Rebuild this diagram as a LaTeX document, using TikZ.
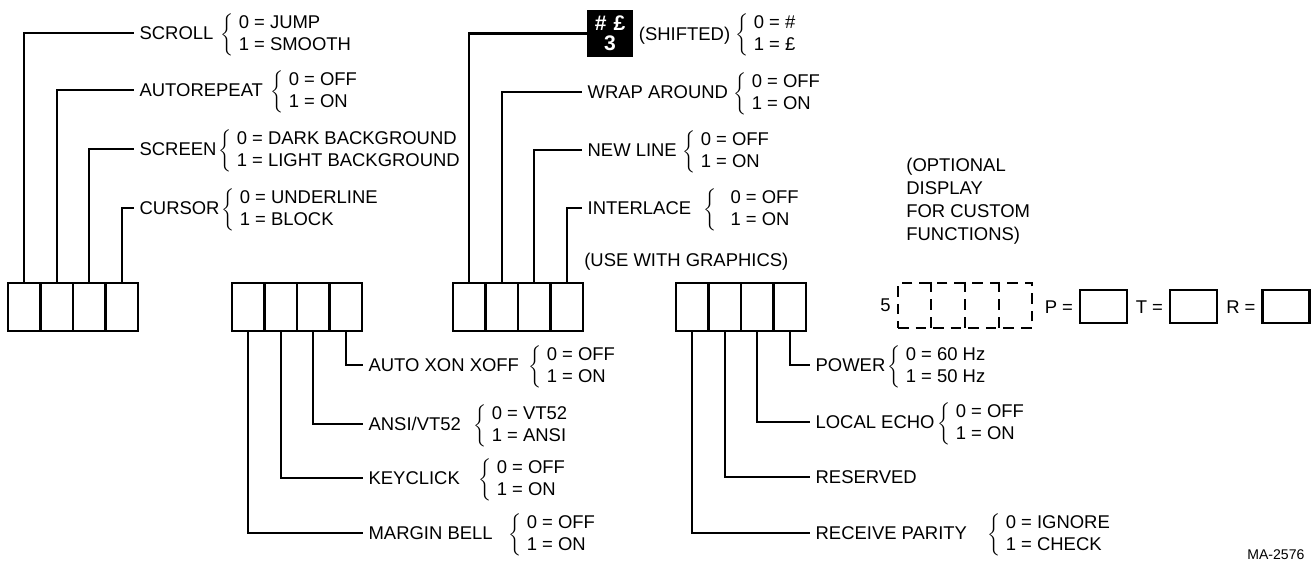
\documentclass[tikz,border=0pt]{standalone}
\usepackage{fontspec}
\setmainfont{Liberation Sans}
\usepackage{tikz}
\usetikzlibrary{positioning,calc}
\tikzset{cell/.style={rectangle,draw=black,line width=1.6pt,minimum width=6.5mm,
 minimum height=9.6mm,inner sep=0pt},
 dimcell/.style={rectangle,draw=black,line width=1.3pt,dash pattern=on 6pt off 4pt,
 minimum width=26.8mm,minimum height=9mm,inner sep=0pt},
 register/.style={rectangle,draw=black,line width=1.6pt,minimum width=9.4mm,
 minimum height=6.6mm,inner sep=0pt},
 setname/.style={anchor=west,inner xsep=3pt,inner ysep=0pt,text height=7.5pt,text depth=0pt},
 choices/.style={anchor=west,inner sep=0pt,yshift=-1.3pt},
 keycap/.style={rectangle,fill=black,text=white,minimum width=9.2mm,minimum height=9.4mm,
 inner sep=0pt,align=center,font=\bfseries\fontsize{12}{11.5}\selectfont},
 note/.style={inner sep=0pt,align=left,font=\fontsize{10.5}{13}\selectfont},
 leader/.style={draw=black,line width=1.3pt}}
\newcommand{\bank}[2]{%
 \foreach \k in {1,...,4}
  \node[cell] (#1\k) at ({#2+32.5*\k-16.25},307) {};}
\newcommand{\setting}[8]{%
 \node[setname] (#1) at (#3,#4) {#5};
 \node[choices] (#1opt) at (#6,#4)
  {$\left\{\begin{tabular}{@{\hspace{3pt}}l@{}}#7\\#8\end{tabular}\right.$};
 \draw[leader] (#2) |- (#1);}

\begin{document}
\begin{tikzpicture}[x=.02cm,y=-.02cm,font=\fontsize{10.5}{12}\selectfont]
 \useasboundingbox (0,0) rectangle (1313,561);
 \bank{a}{8}
 \bank{b}{232}
 \bank{c}{453}
 \bank{d}{676}
 % first bank
 \setting{scroll}{a1.north}{134}{33}{SCROLL}{220}{0 = JUMP}{1 = SMOOTH}
 \setting{autorpt}{a2.north}{134}{90}{AUTOREPEAT}{270}{0 = OFF}{1 = ON}
 \setting{screen}{a3.north}{134}{149}{SCREEN}{218}{0 = DARK BACKGROUND}{1 = LIGHT BACKGROUND}
 \setting{cursor}{a4.north}{134}{208}{CURSOR}{221}{0 = UNDERLINE}{1 = BLOCK}
 % second bank
 \setting{xon}{b4.south}{363}{365}{AUTO XON XOFF}{528}{0 = OFF}{1 = ON}
 \setting{ansi}{b3.south}{363}{424}{ANSI/VT52}{473}{0 = VT52}{1 = ANSI}
 \setting{keyclick}{b2.south}{363}{478}{KEYCLICK}{478}{0 = OFF}{1 = ON}
 \setting{bell}{b1.south}{363}{533}{MARGIN BELL}{508}{0 = OFF}{1 = ON}
 % third bank
 \node[keycap] (key) at (610,33.5) {\#\hspace{4pt}£\\3};
 \node[setname,right=0pt of key] (shifted) {(SHIFTED)};
 \node[choices] (shiftedopt) at (735,33) {$\left\{\begin{tabular}{@{\hspace{3pt}}l@{}}0 = \#\\1 = £\end{tabular}\right.$};
 \draw[leader] (c1.north) |- (key);
 \setting{wrap}{c2.north}{582}{92}{WRAP AROUND}{733}{0 = OFF}{1 = ON}
 \setting{newline}{c3.north}{582}{150}{NEW LINE}{682}{0 = OFF}{1 = ON}
 \setting{interlace}{c4.north}{582}{208}{INTERLACE}{703}{\hspace{5pt}0 = OFF}{\hspace{5pt}1 = ON}
 \node[note,anchor=west] (gfx) at (584,262) {(USE WITH GRAPHICS)};
 % fourth bank
 \setting{power}{d4.south}{810}{365}{POWER}{887}{0 = 60 Hz}{1 = 50 Hz}
 \setting{echo}{d3.south}{810}{422}{LOCAL ECHO}{937}{0 = OFF}{1 = ON}
 \node[setname] (reserved) at (810,477) {RESERVED};
 \draw[leader] (d2.south) |- (reserved);
 \setting{parity}{d1.south}{810}{533}{RECEIVE PARITY}{987}{0 = IGNORE}{1 = CHECK}
 % custom display
 \node[note,anchor=north west] (optnote) at (906,158) {(OPTIONAL\\DISPLAY\\FOR CUSTOM\\FUNCTIONS)};
 \node[dimcell] (disp) at (965,305.5) {};
 \foreach \k in {1,2,3}
  \draw[line width=1.3pt,dash pattern=on 6pt off 4pt]
   ($(disp.north west)!\k/4!(disp.north east)$) -- ($(disp.south west)!\k/4!(disp.south east)$);
 \node[left=0pt of disp] (five) {5};
 \node[register] (preg) at (1103.5,306.5) {};
 \node[register] (treg) at (1193.5,306.5) {};
 \node[register] (rreg) at (1286,306.5) {};
 \node[setname,anchor=east] (plbl) at (preg.west) {P =};
 \node[setname,anchor=east] (tlbl) at (treg.west) {T =};
 \node[setname,anchor=east] (rlbl) at (rreg.west) {R =};
 \node[anchor=north west,inner sep=0pt,font=\fontsize{8}{9}\selectfont] (figno) at (1247,549) {MA-2576};
\end{tikzpicture}
\end{document}
